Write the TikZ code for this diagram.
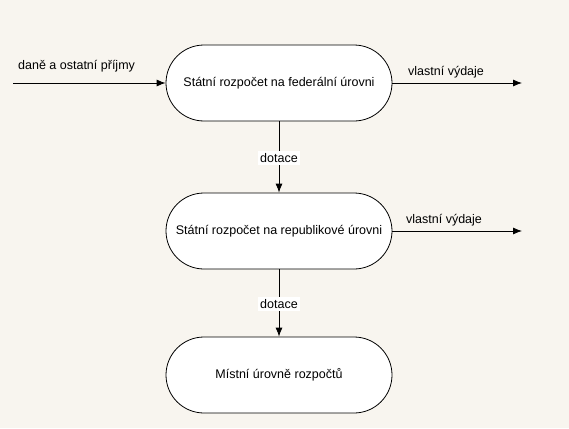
\documentclass[tikz,border=0pt]{standalone}
\usepackage{fontspec}
\setmainfont{Liberation Sans}
\usetikzlibrary{shapes.misc,arrows.meta}
\definecolor{bgc}{HTML}{F8F5EF}
\begin{document}
\begin{tikzpicture}[x=1pt,y=-1pt,
  stadium/.style={rounded rectangle,draw=black,fill=white,line width=0.8pt,
    minimum width=226pt,minimum height=76pt,inner sep=0pt,font=\fontsize{12.5}{14}\selectfont},
  flow/.style={draw=black,line width=0.8pt,-{Latex[length=9pt,width=7pt]}},
  lbl/.style={font=\fontsize{12.5}{14}\selectfont,inner sep=1pt},
  lblw/.style={lbl,fill=white,inner sep=2pt}]
\fill[bgc] (0,0) rectangle (569,428);
\useasboundingbox (0,0) rectangle (569,428);
\node[stadium] (fed) at (279,83) {Státní rozpočet na federální úrovni};
\node[stadium] (rep) at (279,231) {Státní rozpočet na republikové úrovni};
\node[stadium] (mis) at (279,375) {Místní úrovně rozpočtů};
\coordinate (in) at (13,83);
\coordinate (out1) at (522,83);
\coordinate (out2) at (522,231);
\draw[flow] (in) -- (fed.west);
\draw[flow] (fed.east) -- (out1);
\draw[flow] (rep.east) -- (out2);
\draw[flow] (fed.south) -- (rep.north);
\draw[flow] (rep.south) -- (mis.north);
\node[lbl,anchor=west] (l1) at (17,66) {daně a ostatní příjmy};
\node[lbl,anchor=west] (l2) at (407,72) {vlastní výdaje};
\node[lbl,anchor=west] (l3) at (405,220) {vlastní výdaje};
\node[lblw] (d1) at (279,158) {dotace};
\node[lblw] (d2) at (279,304) {dotace};
\end{tikzpicture}
\end{document}
